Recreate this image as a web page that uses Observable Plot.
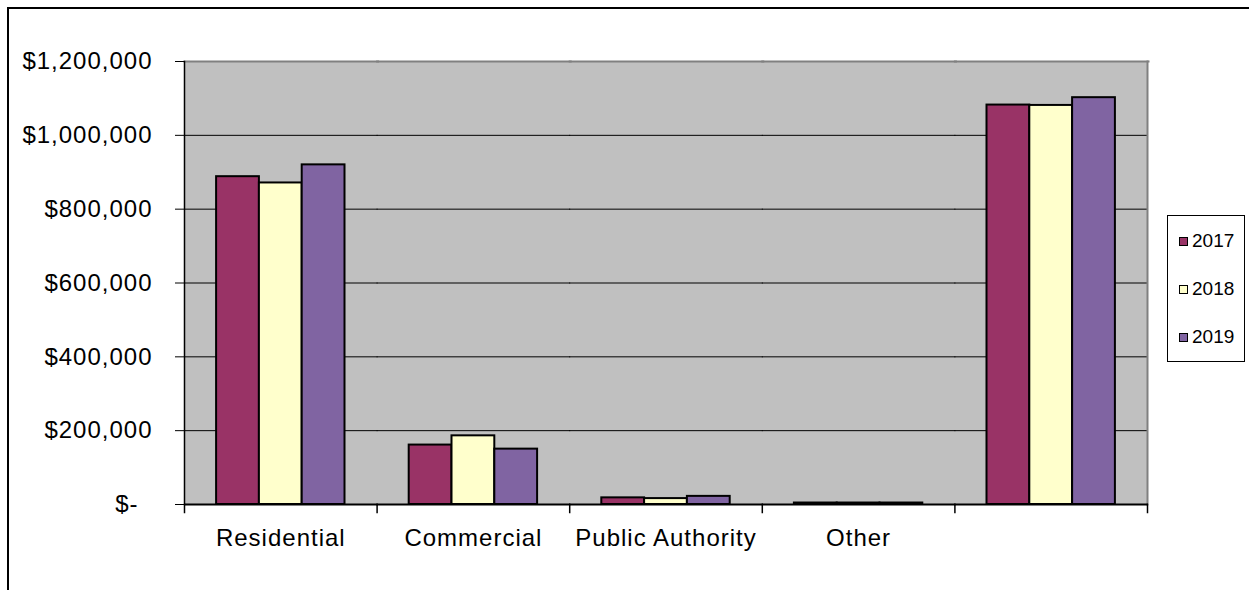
<!DOCTYPE html>
<html>
<head>
<meta charset="utf-8">
<script src="https://cdn.jsdelivr.net/npm/d3@7"></script>
<script src="https://cdn.jsdelivr.net/npm/@observablehq/plot@0.6"></script>
<style>
  html, body { margin: 0; padding: 0; background: #fff; }
  #wrap { position: relative; width: 1249px; height: 590px; overflow: hidden; font-family: "Liberation Sans", Arial, sans-serif; }
  #border { position: absolute; left: 7px; top: 7px; width: 1260px; height: 600px; border-left: 2px solid #000; border-top: 2px solid #000; pointer-events: none; }
  #chart svg text { letter-spacing: 1px; }
  #legend { position: absolute; left: 1167px; top: 215px; width: 76px; height: 145px; border: 1px solid #000; background: #fff; box-sizing: content-box; }
  .item { position: absolute; left: 11px; height: 22px; display: flex; align-items: center; font-size: 19px; color: #000; }
  .sw { width: 7px; height: 7px; border: 1px solid #000; margin-right: 4px; }
</style>
</head>
<body>
<div id="wrap">
  <div id="chart"></div>
  <div id="legend"></div>
  <div id="border"></div>
</div>
<script>
const categories = ["Residential", "Commercial", "Public Authority", "Other", ""];
const years = ["2017", "2018", "2019"];
const values2017 = [888000, 161000, 18000, 4000, 1082000];
const values2018 = [871000, 186000, 16000, 4000, 1081000];
const values2019 = [920000, 150000, 22000, 4000, 1102000];
const colors = ["#993366", "#FFFFCC", "#8064A2"];
const yTicks = [0, 200000, 400000, 600000, 800000, 1000000, 1200000];

const series = [values2017, values2018, values2019];
const data = categories.flatMap((c, i) => years.map((yr, j) => ({category: c, year: yr, value: series[j][i]})));

const W = 1249, H = 590, mL = 184, mR = 102, mT = 61, mB = 86;
const innerW = W - mL - mR;
const spanRest = innerW * (categories.length - 1) / categories.length;

const fmt = d3.format(",");
const chart = Plot.plot({
  width: W,
  height: H,
  marginLeft: mL,
  marginRight: mR,
  marginTop: mT,
  marginBottom: mB,
  style: {fontFamily: "'Liberation Sans', Arial, sans-serif", fontSize: "24px", color: "#000", background: "transparent", overflow: "visible"},
  fx: {domain: categories, padding: 0, round: false, label: null},
  x: {domain: years, paddingInner: 0, paddingOuter: 0.75, round: false, axis: null},
  y: {domain: [0, 1200000]},
  color: {domain: years, range: colors},
  marks: [
    Plot.frame({fill: "#C0C0C0", stroke: null, facetAnchor: "left", insetRight: -spanRest}),
    Plot.gridY({ticks: yTicks.filter(v => v > 0 && v < 1200000), stroke: "#000", strokeOpacity: 1, strokeWidth: 1, insetRight: -1}),
    Plot.frame({anchor: "top", stroke: "#808080", strokeWidth: 2, insetRight: -1}),
    Plot.frame({anchor: "right", stroke: "#808080", strokeWidth: 2, facetAnchor: "right"}),
    Plot.barY(data, {fx: "category", x: "year", y: "value", fill: "year", stroke: "#000", strokeWidth: 2}),
    Plot.ruleY([0], {stroke: "#000", strokeWidth: 2, insetRight: -1}),
    Plot.frame({anchor: "left", stroke: "#000", strokeWidth: 1.5, facetAnchor: "left"}),
    Plot.frame({anchor: "left", stroke: "#000", strokeWidth: 1.5, insetTop: H - mT - mB, insetBottom: -8}),
    Plot.frame({anchor: "right", stroke: "#000", strokeWidth: 1.5, insetTop: H - mT - mB, insetBottom: -8, facetAnchor: "right"}),
    Plot.axisY({ticks: yTicks.filter(v => v > 0), tickFormat: d => "$" + fmt(d), tickSize: 9, tickPadding: 23, fontSize: 24, stroke: "#000", label: null}),
    Plot.axisY({ticks: [0], tickFormat: () => "$-", tickSize: 9, tickPadding: 37, fontSize: 24, stroke: "#000", label: null}),
    Plot.axisFx({anchor: "bottom", tickSize: 0, tickPadding: 24, fontSize: 24, label: null})
  ]
});
document.getElementById("chart").appendChild(chart);

const legend = document.getElementById("legend");
years.forEach((yr, j) => {
  const it = document.createElement("div");
  it.className = "item";
  it.style.top = (14 + j * 48) + "px";
  const sw = document.createElement("div");
  sw.className = "sw";
  sw.style.background = colors[j];
  const t = document.createElement("span");
  t.textContent = yr;
  it.appendChild(sw);
  it.appendChild(t);
  legend.appendChild(it);
});
</script>
</body>
</html>
